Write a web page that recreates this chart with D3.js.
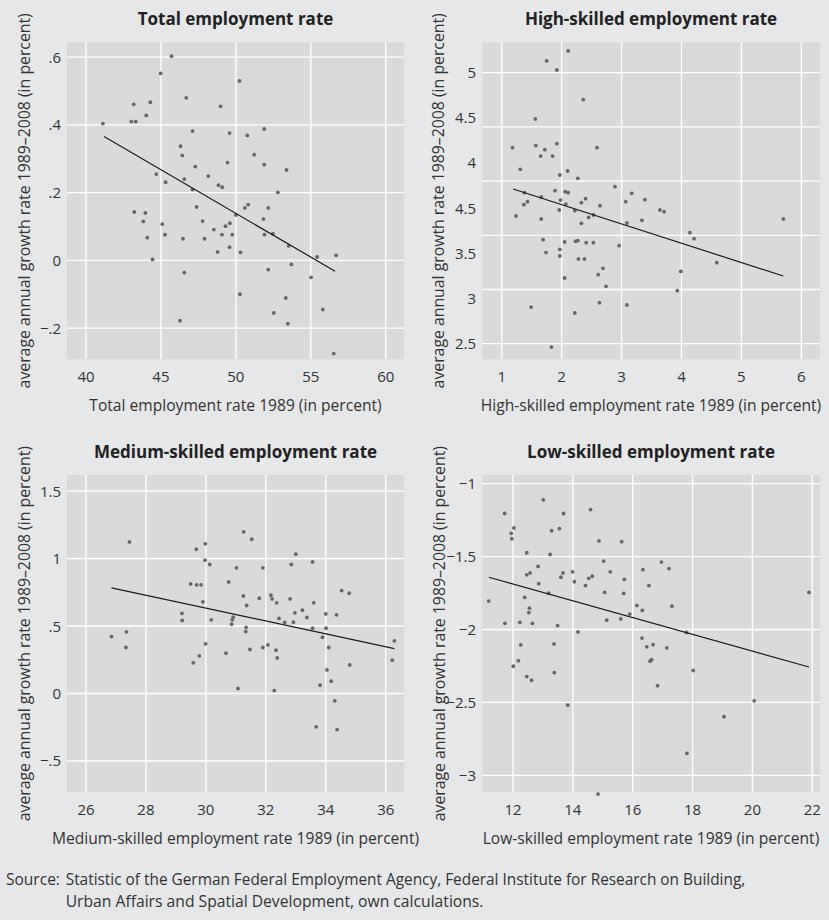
<!DOCTYPE html>
<html>
<head>
<meta charset="utf-8">
<script src="https://cdn.jsdelivr.net/npm/d3@7"></script>
<style>
  html, body { margin: 0; padding: 0; background: #e6e7e8; }
  svg { display: block; }
  text { font-family: "Open Sans", Lato, sans-serif; fill: #333; }
</style>
</head>
<body>
<svg id="chart" width="829" height="920"></svg>
<script>
// ---------- DATA ----------
const totalX = [41.13,45.71,44.98,43.18,44.29,44.02,43.02,43.31,46.69,48.98,50.24,47.11,49.58,50.76,51.89,46.31,46.42,51.22,49.44,51.89,47.29,53.38,44.69,48.16,46.56,45.31,48.84,49.09,47.11,52.80,47.38,50.82,50.60,52.16,43.22,43.96,50.00,51.84,43.82,47.78,45.09,49.60,49.31,48.53,45.27,49.07,49.76,51.91,52.47,44.09,46.47,47.91,53.53,49.58,48.78,50.31,44.44,56.69,55.42,53.71,52.16,46.56,55.02,50.27,53.33,55.80,52.53,46.27,53.47,56.53];
const totalY = [0.404,0.603,0.552,0.461,0.467,0.428,0.410,0.410,0.480,0.455,0.530,0.382,0.376,0.369,0.388,0.337,0.310,0.312,0.289,0.283,0.277,0.267,0.255,0.249,0.240,0.231,0.222,0.216,0.209,0.201,0.158,0.165,0.155,0.155,0.143,0.140,0.134,0.122,0.115,0.116,0.107,0.110,0.101,0.091,0.076,0.076,0.076,0.076,0.079,0.067,0.064,0.064,0.043,0.039,0.025,0.024,0.003,0.015,0.010,-0.012,-0.027,-0.036,-0.050,-0.100,-0.111,-0.145,-0.155,-0.178,-0.187,-0.275];
const totalFit = [[41.2, 0.366], [56.62, -0.032]];

const highX = [1.18,1.31,1.24,1.38,1.37,1.43,1.49,1.56,1.57,1.65,1.66,1.66,1.69,1.72,1.74,1.75,1.85,1.83,1.89,1.92,1.92,1.96,1.97,1.98,1.97,1.97,2.05,2.05,2.06,2.07,2.11,2.10,2.11,2.22,2.22,2.23,2.27,2.27,2.28,2.33,2.33,2.36,2.38,2.40,2.41,2.45,2.53,2.53,2.59,2.61,2.64,2.63,2.69,2.74,2.89,2.96,3.07,3.09,3.09,3.17,3.34,3.39,3.64,3.71,3.93,3.99,4.14,4.21,4.59,5.70];
const highY = [4.308,4.108,3.678,3.893,3.782,3.810,2.838,4.573,4.327,4.231,3.853,3.650,3.459,4.290,3.340,5.108,4.231,2.469,3.911,5.025,4.345,3.733,4.056,3.825,3.370,3.309,3.106,3.438,3.902,3.788,3.893,4.093,5.200,3.727,2.783,3.444,3.450,4.025,3.281,3.801,3.610,4.751,3.281,3.838,3.432,3.665,3.687,3.432,4.308,3.137,3.773,2.878,3.195,3.029,3.948,3.404,3.810,3.613,2.857,3.887,3.638,3.828,3.733,3.718,2.989,3.167,3.524,3.469,3.247,3.650];
const highFit = [[1.19, 3.927], [5.70, 3.124]];

const mediumX = [26.85,27.35,27.33,27.45,29.20,29.21,29.49,29.58,29.68,29.69,29.78,29.84,29.90,29.97,29.98,29.99,30.13,30.18,30.67,30.76,30.86,30.88,30.91,31.02,31.07,31.26,31.25,31.33,31.34,31.36,31.47,31.53,31.78,31.90,31.90,32.07,32.17,32.21,32.28,32.34,32.36,32.38,32.44,32.63,32.81,32.85,32.92,32.97,33.00,33.22,33.37,33.56,33.56,33.60,33.68,33.81,33.89,34.00,34.01,34.04,34.10,34.18,34.30,34.36,34.38,34.53,34.78,34.80,36.22,36.29];
const mediumY = [0.422,0.457,0.341,1.123,0.593,0.541,0.812,0.227,1.069,0.805,0.279,0.805,0.679,0.988,1.109,0.368,0.956,0.546,0.299,0.827,0.514,0.546,0.565,0.931,0.037,1.198,0.723,0.459,0.489,0.652,0.326,1.143,0.706,0.931,0.341,0.360,0.728,0.701,0.022,0.321,0.672,0.264,0.556,0.526,0.701,0.956,0.528,0.598,1.032,0.617,0.563,0.975,0.484,0.672,-0.247,0.062,0.417,0.590,0.484,0.175,0.341,0.091,-0.054,0.583,-0.267,0.763,0.743,0.212,0.247,0.390];
const mediumFit = [[26.85, 0.783], [36.29, 0.333]];

const lowX = [11.19,11.72,11.73,11.94,11.96,12.03,12.01,12.18,12.23,12.26,12.39,12.46,12.46,12.46,12.55,12.53,12.57,12.62,12.65,12.84,12.86,13.01,13.19,13.24,13.29,13.37,13.38,13.49,13.55,13.60,13.67,13.69,13.83,13.99,14.05,14.17,14.42,14.53,14.65,14.59,14.84,14.87,15.03,15.06,15.13,15.25,15.60,15.63,15.70,15.72,15.90,16.14,16.31,16.32,16.34,16.47,16.54,16.58,16.63,16.68,16.83,16.96,17.14,17.21,17.31,17.80,17.81,18.02,19.05,20.06,21.89];
const lowY = [-1.805,-1.205,-1.958,-1.341,-1.378,-1.304,-2.252,-2.215,-1.951,-2.106,-1.780,-1.474,-1.625,-2.323,-1.854,-1.884,-1.612,-2.348,-1.958,-1.568,-1.686,-1.111,-1.751,-1.486,-1.323,-2.099,-2.296,-1.973,-1.309,-1.642,-1.612,-1.205,-2.519,-1.605,-1.672,-2.017,-1.699,-1.649,-1.635,-1.178,-3.128,-1.393,-1.531,-1.746,-1.936,-1.605,-1.928,-1.398,-1.753,-1.657,-1.894,-1.835,-2.059,-1.869,-1.590,-2.119,-1.699,-2.217,-2.207,-2.104,-2.385,-1.538,-2.126,-1.583,-1.840,-2.020,-2.849,-2.281,-2.598,-2.489,-1.746];
const lowFit = [[11.19, -1.642], [21.89, -2.257]];

// ticks
const totalXTicks = [40, 45, 50, 55, 60];
const totalYTicks = [0.6, 0.4, 0.2, 0, -0.2];
const totalYLabels = [".6", ".4", ".2", "0", "\u2212.2"];
const highXTicks = [1, 2, 3, 4, 5, 6];
const highYTicks = [5, 4.5, 4, 3.5, 3, 2.5];
const highYLabels = ["5", "4.5", "4", "4.5", "3.5", "3", "2.5"];
const mediumXTicks = [26, 28, 30, 32, 34, 36];
const mediumYTicks = [1.5, 1, 0.5, 0, -0.5];
const mediumYLabels = ["1.5", "1", ".5", "0", "\u2212.5"];
const lowXTicks = [12, 14, 16, 18, 20, 22];
const lowYTicks = [-1, -1.5, -2, -2.5, -3];
const lowYLabels = ["\u22121", "\u22121.5", "\u22122", "\u22122.5", "\u22123"];

const titles = ["Total employment rate", "High-skilled employment rate", "Medium-skilled employment rate", "Low-skilled employment rate"];
const xTitles = ["Total employment rate 1989 (in percent)", "High-skilled employment rate 1989 (in percent)", "Medium-skilled employment rate 1989 (in percent)", "Low-skilled employment rate 1989 (in percent)"];
const yTitle = "average annual growth rate 1989\u20132008 (in percent)";
const sourceLabel = "Source:";
const sourceLines = ["Statistic of the German Federal Employment Agency, Federal Institute for Research on Building,", "Urban Affairs and Spatial Development, own calculations."];

// ---------- LAYOUT ----------
const svg = d3.select("#chart");
const panels = [
  { x: totalX, y: totalY, fit: totalFit, xd: [38.73, 61.22], yd: [-0.292, 0.644], xt: totalXTicks, yt: totalYTicks, yl: totalYLabels,
    rect: [67, 42.3, 404, 359.3], ytx: 25 },
  { x: highX, y: highY, fit: highFit, xd: [0.671, 6.312], yd: [2.356, 5.28], xt: highXTicks, yt: highYTicks, yl: highYLabels,
    rect: [482, 42.3, 820, 359.3], ytx: 439, spreadLabels: true },
  { x: mediumX, y: mediumY, fit: mediumFit, xd: [25.366, 36.61], yd: [-0.732, 1.619], xt: mediumXTicks, yt: mediumYTicks, yl: mediumYLabels,
    rect: [67, 475, 404, 792.3], ytx: 25 },
  { x: lowX, y: lowY, fit: lowFit, xd: [10.964, 22.257], yd: [-3.116, -0.941], xt: lowXTicks, yt: lowYTicks, yl: lowYLabels,
    rect: [482, 475, 820, 792.3], ytx: 440 }
];

panels.forEach((p, i) => {
  const [x0, y0, x1, y1] = p.rect;
  const xs = d3.scaleLinear().domain(p.xd).range([x0, x1]);
  const ys = d3.scaleLinear().domain(p.yd).range([y1, y0]);
  const g = svg.append("g");
  const cx = (x0 + x1) / 2, cy = (y0 + y1) / 2;

  g.append("rect").attr("x", x0).attr("y", y0).attr("width", x1 - x0).attr("height", y1 - y0).attr("fill", "#d9dadb");

  // grid
  g.selectAll(".vg").data(p.xt).join("line")
    .attr("x1", d => xs(d)).attr("x2", d => xs(d)).attr("y1", y0).attr("y2", y1)
    .attr("stroke", "#fff").attr("stroke-width", 1.3);
  g.selectAll(".hg").data(p.yt).join("line")
    .attr("y1", d => ys(d)).attr("y2", d => ys(d)).attr("x1", x0).attr("x2", x1)
    .attr("stroke", "#fff").attr("stroke-width", 1.3);

  // x tick labels
  g.selectAll(".xl").data(p.xt).join("text")
    .attr("x", d => xs(d)).attr("y", y1 + 23)
    .attr("text-anchor", "middle").attr("font-size", 15).text(d => d);

  // y tick labels
  let ylPos;
  if (p.spreadLabels) {
    const ps = d3.scalePoint().domain(d3.range(p.yl.length)).range([ys(p.yt[0]), ys(p.yt[p.yt.length - 1])]);
    ylPos = p.yl.map((t, k) => ps(k));
  } else {
    ylPos = p.yt.map(v => ys(v));
  }
  g.selectAll(".yl").data(p.yl).join("text")
    .attr("x", x0 - 6).attr("y", (d, k) => ylPos[k] + 5.5)
    .attr("text-anchor", "end").attr("font-size", 15).text(d => d);

  // points
  g.selectAll(".pt").data(p.x.map((v, k) => [v, p.y[k]])).join("circle")
    .attr("cx", d => xs(d[0])).attr("cy", d => ys(d[1])).attr("r", 1.9)
    .attr("fill", "#666");

  // fitted line
  g.append("line")
    .attr("x1", xs(p.fit[0][0])).attr("y1", ys(p.fit[0][1]))
    .attr("x2", xs(p.fit[1][0])).attr("y2", ys(p.fit[1][1]))
    .attr("stroke", "#1a1a1a").attr("stroke-width", 1.2);

  // titles
  g.append("text").attr("x", cx).attr("y", y0 - 17)
    .attr("text-anchor", "middle").attr("font-size", 17).attr("font-weight", "bold")
    .style("fill", "#222").text(titles[i]);
  g.append("text").attr("x", cx).attr("y", y1 + 52)
    .attr("text-anchor", "middle").attr("font-size", 15.6).text(xTitles[i]);
  g.append("text")
    .attr("transform", `translate(${p.ytx + 5},${cy}) rotate(-90)`)
    .attr("text-anchor", "middle").attr("font-size", 15.8).text(yTitle);
});

// source (condensed by horizontal scaling)
function condensed(txt, x, y, width) {
  const t = svg.append("text").attr("font-size", 17).text(txt);
  const w = t.node().getComputedTextLength();
  t.attr("transform", `translate(${x},${y}) scale(${width / w},1)`);
}
condensed(sourceLabel, 6, 885, 54);
condensed(sourceLines[0], 65.7, 885, 680);
condensed(sourceLines[1], 65.7, 906.5, 418);
</script>
</body>
</html>
